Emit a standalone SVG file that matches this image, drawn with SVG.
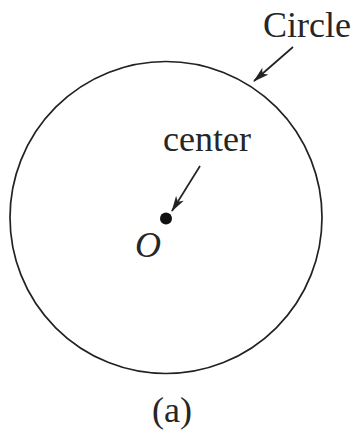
<svg xmlns="http://www.w3.org/2000/svg" width="360" height="436" viewBox="0 0 360 436">
<defs>
<marker id="ah" markerWidth="16" markerHeight="10" refX="15" refY="5" orient="auto" markerUnits="userSpaceOnUse">
<path d="M0,0.5 L16,5 L0,9.5 L4,5 Z" fill="#222"/>
</marker>
</defs>
<style>
.t{font-family:"Liberation Serif","Times New Roman",serif;font-size:36px;fill:#262626}
.ln{stroke:#222;stroke-width:1.7;fill:none}
</style>
<rect width="360" height="436" fill="#fff"/>
<g id="circle"><circle cx="166" cy="217.5" r="156" class="ln"/></g>
<g id="center-point"><circle cx="166" cy="218.5" r="6" fill="#111"/></g>
<g id="label-circle"><text class="t" x="263" y="37">Circle</text></g>
<g id="label-center"><text class="t" x="163" y="151">center</text></g>
<g id="label-O"><text class="t" x="135" y="257" font-style="italic">O</text></g>
<g id="caption"><text class="t" x="152" y="422">(a)</text></g>
<g id="connectors">
<line class="ln" x1="293" y1="47" x2="254" y2="81" marker-end="url(#ah)"/>
<line class="ln" x1="200" y1="166" x2="172" y2="211" marker-end="url(#ah)"/>
</g>
</svg>
